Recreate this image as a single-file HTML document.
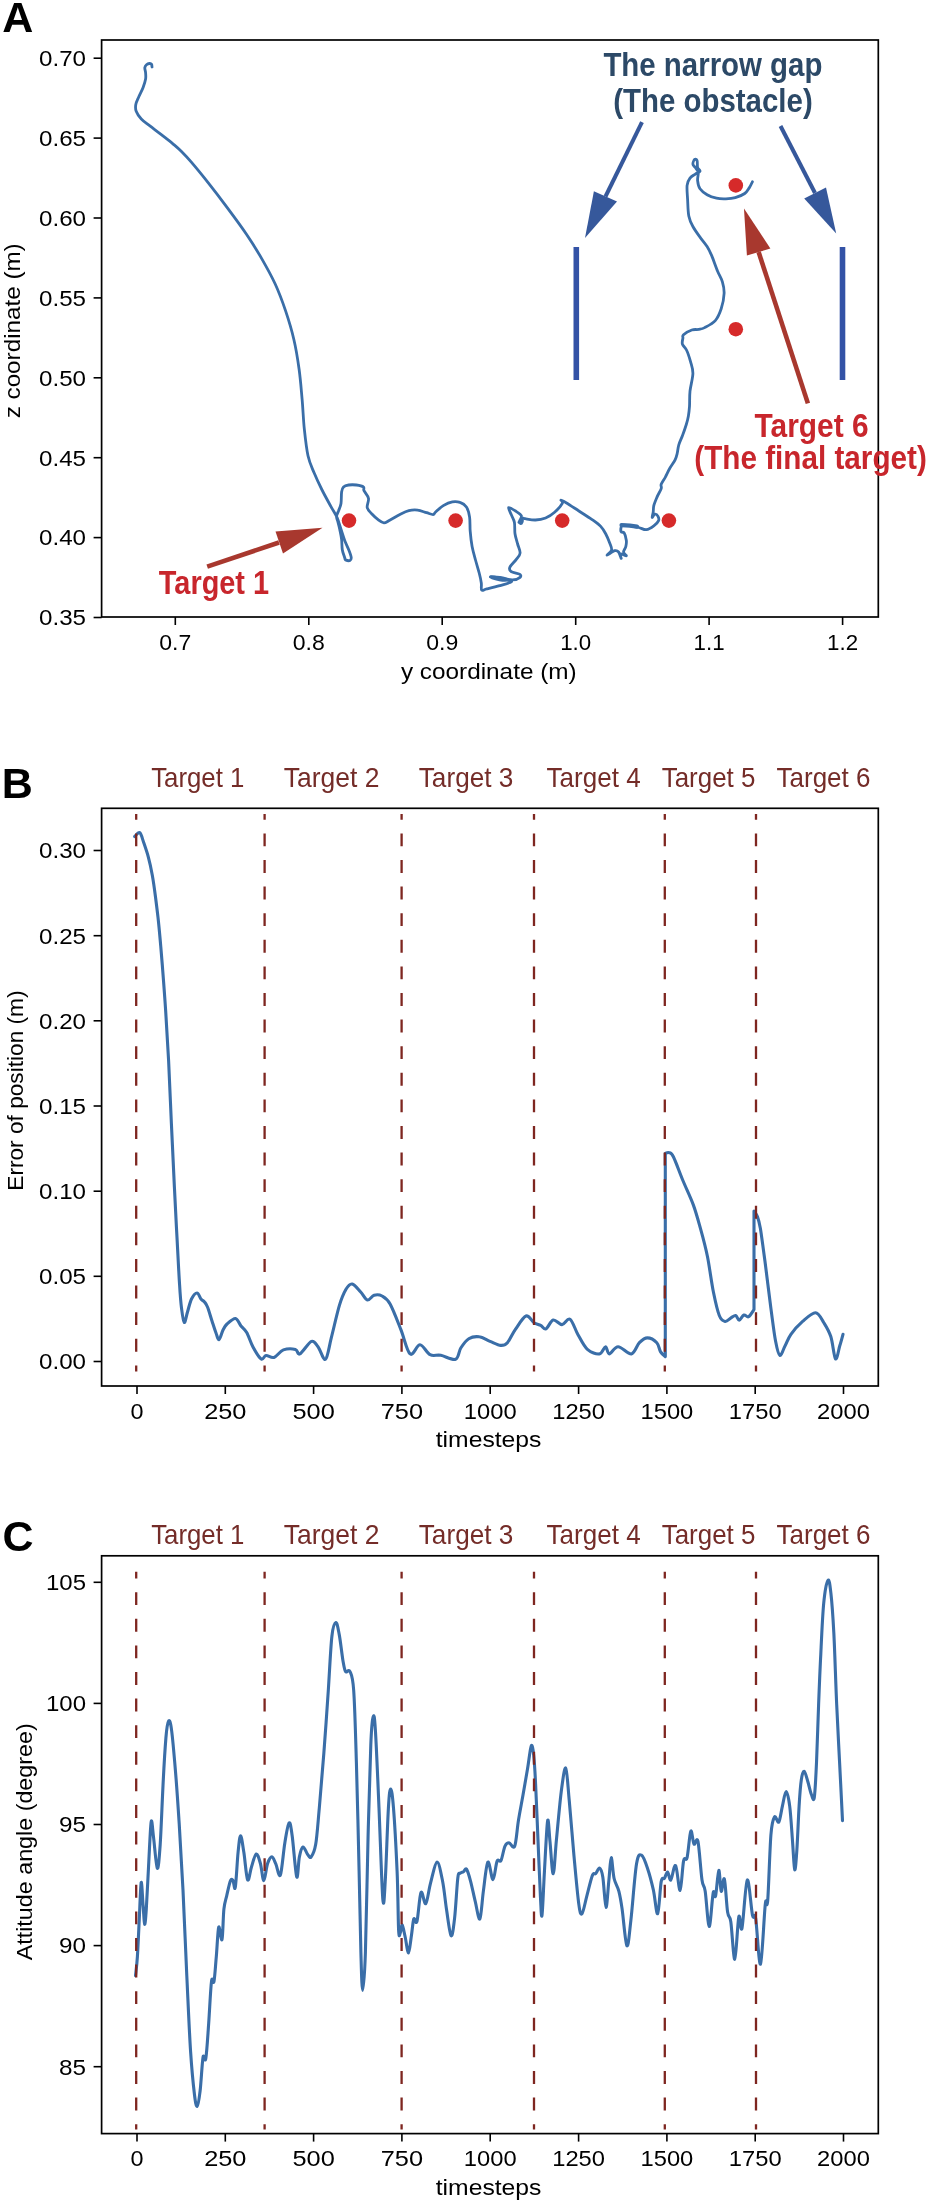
<!DOCTYPE html>
<html><head><meta charset="utf-8"><title>Figure</title>
<style>
html,body{margin:0;padding:0;background:#fff;overflow:hidden;}
svg{display:block;will-change:transform;}
text{font-family:"Liberation Sans", sans-serif;}
.t{font-size:22.5px;fill:#000;}
.L{font-size:43px;font-weight:bold;fill:#000;}
.an{font-size:33px;font-weight:bold;}
.tl{font-size:28px;fill:#742c28;}
</style></head>
<body>
<svg width="937" height="2210" viewBox="0 0 937 2210">
<rect width="937" height="2210" fill="#fff"/>
<text x="2.2" y="32.4" class="L">A</text>
<text x="1.8" y="798.3" class="L">B</text>
<text x="2.6" y="1551.2" class="L">C</text>
<line x1="576.3" y1="247" x2="576.3" y2="380" stroke="#3352a6" stroke-width="5.6"/>
<line x1="842.5" y1="247" x2="842.5" y2="380" stroke="#3352a6" stroke-width="5.6"/>
<path d="M152.0,67.0 C151.9,66.6 152.0,65.0 151.6,64.4 C151.2,63.8 150.3,63.4 149.5,63.5 C148.7,63.6 147.3,64.1 146.5,64.8 C145.7,65.5 145.0,66.4 144.8,67.8 C144.7,69.2 145.5,71.1 145.6,72.9 C145.7,74.8 146.0,76.5 145.6,78.9 C145.2,81.3 144.2,84.4 143.1,87.4 C142.0,90.4 140.0,94.0 138.8,96.8 C137.6,99.6 136.2,102.1 135.8,104.5 C135.4,106.9 135.3,108.9 136.2,111.3 C137.1,113.7 139.0,116.6 141.3,119.0 C143.6,121.4 146.6,123.3 149.9,125.9 C153.2,128.5 157.2,131.4 161.0,134.4 C164.8,137.4 169.5,141.0 172.9,143.8 C176.3,146.7 178.5,148.5 181.5,151.5 C184.5,154.5 186.5,156.5 190.9,161.7 C195.3,166.8 201.8,174.7 207.9,182.4 C214.0,190.1 220.9,199.1 227.4,207.8 C233.9,216.5 241.1,226.2 246.8,234.7 C252.5,243.2 257.0,250.4 261.7,258.6 C266.4,266.8 271.2,275.3 275.2,284.0 C279.2,292.7 282.5,301.7 285.6,310.9 C288.7,320.1 291.6,329.6 293.8,339.3 C296.1,349.0 297.7,359.2 299.1,369.2 C300.5,379.2 301.2,389.2 302.1,399.1 C303.0,409.1 303.3,419.4 304.3,428.9 C305.3,438.3 306.4,448.5 308.0,455.8 C309.6,463.1 311.8,467.2 314.1,472.8 C316.4,478.4 319.0,483.9 321.8,489.5 C324.6,495.1 328.1,501.4 330.7,506.1 C333.2,510.8 335.4,513.8 337.1,517.6 C338.8,521.5 339.7,525.4 341.0,529.2 C342.3,533.1 343.5,537.3 344.8,540.7 C346.1,544.1 347.6,546.9 348.7,549.7 C349.8,552.5 351.0,555.5 351.2,557.3 C351.4,559.1 350.9,560.1 350.0,560.5 C349.1,560.9 346.4,560.3 345.5,559.9 C344.6,559.5 345.3,559.7 344.8,558.0 C344.3,556.3 342.8,552.8 342.3,549.7 C341.8,546.6 342.0,542.8 341.6,539.4 C341.2,536.0 340.3,532.2 339.7,529.2 C339.1,526.2 338.3,523.6 337.8,521.5 C337.3,519.4 336.4,518.1 336.5,516.4 C336.6,514.7 337.6,513.4 338.4,511.2 C339.1,509.1 340.5,506.7 341.0,503.5 C341.5,500.3 341.2,494.8 341.6,492.0 C342.0,489.2 342.3,488.1 343.5,486.9 C344.7,485.7 346.6,485.3 348.7,485.0 C350.8,484.7 353.9,484.7 356.4,485.0 C358.8,485.3 362.1,485.9 363.4,486.9 C364.7,487.8 363.1,488.8 364.0,490.7 C364.9,492.6 368.0,495.6 368.5,498.4 C369.0,501.2 366.7,504.8 367.2,507.4 C367.7,510.0 369.9,511.8 371.7,513.8 C373.5,515.8 376.1,518.1 378.1,519.6 C380.1,521.1 382.0,522.7 383.9,522.8 C385.8,522.9 387.0,521.6 389.7,520.2 C392.4,518.8 396.7,516.0 399.9,514.4 C403.1,512.8 405.9,511.3 408.9,510.6 C411.9,509.9 414.8,509.8 417.7,510.1 C420.6,510.5 424.0,512.0 426.6,512.7 C429.2,513.5 431.6,514.7 433.1,514.6 C434.6,514.5 433.9,513.5 435.6,512.0 C437.3,510.5 440.5,507.3 443.3,505.6 C446.1,503.9 449.5,502.3 452.3,501.8 C455.1,501.3 457.6,501.5 460.0,502.4 C462.4,503.2 464.8,504.4 466.4,506.9 C468.0,509.3 469.0,513.0 469.6,517.1 C470.2,521.2 469.8,526.3 470.2,531.2 C470.6,536.1 471.2,541.8 472.1,546.6 C473.0,551.4 474.3,555.6 475.5,560.0 C476.7,564.4 478.2,569.2 479.2,573.0 C480.2,576.8 480.9,580.1 481.3,583.0 C481.7,585.9 480.8,589.1 481.7,590.1 C482.6,591.1 483.8,589.6 486.8,588.9 C489.8,588.2 495.6,586.9 499.7,585.7 C503.8,584.5 509.9,582.8 511.2,581.8 C512.5,580.8 510.7,580.8 507.3,579.9 C503.9,579.0 492.0,577.0 490.7,576.7 C489.4,576.4 496.1,577.5 499.7,578.0 C503.3,578.5 509.1,580.0 512.5,579.9 C515.9,579.8 518.9,578.3 520.1,577.3 C521.3,576.3 521.0,575.0 519.5,574.1 C518.0,573.2 512.8,572.8 511.2,571.6 C509.6,570.4 509.0,569.1 509.9,567.1 C510.8,565.1 514.6,561.8 516.3,559.4 C518.0,557.0 519.9,555.6 520.1,553.0 C520.3,550.4 518.5,547.2 517.6,544.0 C516.8,540.8 515.5,537.4 515.0,533.8 C514.5,530.2 515.0,525.5 514.4,522.3 C513.8,519.1 512.2,517.1 511.2,514.6 C510.2,512.1 508.0,508.1 508.6,507.5 C509.2,506.9 512.9,509.3 515.0,510.7 C517.1,512.1 520.8,514.0 521.4,515.9 C522.0,517.8 518.7,521.9 518.9,522.3 C519.1,522.7 521.7,519.0 522.7,518.4 C523.7,517.8 523.0,518.4 525.1,518.7 C527.2,519.0 532.0,520.1 535.4,520.0 C538.8,519.9 542.4,519.3 545.6,518.0 C548.8,516.7 551.8,514.8 554.6,512.3 C557.4,509.8 561.2,505.3 562.3,503.3 C563.4,501.3 560.4,500.2 561.0,500.1 C561.6,500.0 563.1,500.9 566.1,502.7 C569.1,504.5 574.6,508.2 578.9,511.0 C583.2,513.8 588.1,516.7 591.7,519.3 C595.3,521.9 598.4,523.9 600.7,526.4 C603.1,528.9 604.3,531.2 605.8,534.0 C607.3,536.8 608.7,540.3 609.7,543.0 C610.7,545.7 612.0,548.0 611.6,550.0 C611.2,552.0 606.6,555.1 607.1,555.2 C607.6,555.3 612.9,551.2 614.8,550.7 C616.7,550.2 617.5,550.7 618.6,552.0 C619.7,553.3 620.9,558.1 621.2,558.4 C621.5,558.7 619.6,554.3 620.5,553.9 C621.4,553.5 625.8,556.1 626.3,555.8 C626.8,555.5 623.6,553.5 623.5,552.0 C623.4,550.5 625.3,548.6 625.8,546.6 C626.3,544.6 626.6,542.5 626.3,540.2 C626.0,537.9 625.1,534.4 624.2,533.0 C623.3,531.6 621.4,532.9 621.0,531.6 C620.6,530.4 620.7,526.5 622.0,525.5 C623.3,524.5 626.1,525.2 628.9,525.5 C631.7,525.8 635.9,526.8 638.8,527.5 C641.7,528.2 643.8,530.0 646.3,529.7 C648.8,529.4 651.8,527.4 653.8,525.9 C655.8,524.4 657.9,522.2 658.6,520.6 C659.3,519.0 658.6,517.4 658.0,516.3 C657.4,515.2 655.8,514.0 654.8,514.2 C653.8,514.4 652.5,517.8 652.2,517.4 C651.9,517.0 652.9,514.1 653.2,512.1 C653.5,510.2 653.2,508.2 653.8,505.7 C654.4,503.2 655.8,500.0 657.0,497.1 C658.2,494.2 660.5,490.7 661.2,488.6 C661.9,486.5 660.5,486.3 661.2,484.3 C661.9,482.3 664.1,479.5 665.5,476.8 C666.9,474.1 668.2,471.1 669.8,468.3 C671.4,465.5 673.9,462.3 675.1,459.8 C676.3,457.3 676.6,455.9 677.2,453.4 C677.8,450.9 677.9,447.8 678.8,444.8 C679.7,441.8 681.4,438.6 682.6,435.2 C683.9,431.8 685.3,427.7 686.3,424.5 C687.3,421.3 687.9,419.0 688.4,416.0 C688.9,413.0 689.2,410.5 689.5,406.4 C689.8,402.3 689.4,396.7 690.0,391.2 C690.6,385.7 692.8,378.4 692.9,373.5 C693.0,368.6 691.7,365.7 690.6,361.8 C689.5,357.9 687.9,352.9 686.5,350.0 C685.1,347.1 683.0,346.1 682.4,344.1 C681.8,342.1 682.7,339.8 682.9,338.2 C683.1,336.6 682.0,336.1 683.5,334.7 C685.0,333.3 689.2,330.9 691.8,330.0 C694.3,329.1 696.6,329.8 698.8,329.4 C700.9,329.0 702.0,329.1 704.7,327.6 C707.5,326.1 712.5,323.7 715.3,320.6 C718.0,317.5 719.7,313.3 721.2,308.8 C722.7,304.3 723.9,298.0 724.1,293.5 C724.3,289.0 723.5,285.5 722.4,281.8 C721.3,278.1 719.4,275.5 717.6,271.2 C715.8,266.9 713.5,260.0 711.8,255.9 C710.0,251.8 709.1,249.6 707.1,246.5 C705.1,243.4 702.4,240.4 700.0,237.1 C697.6,233.8 694.8,230.0 692.9,226.5 C691.0,223.0 689.7,220.4 688.8,215.9 C687.9,211.4 687.9,204.5 687.6,199.4 C687.3,194.3 686.7,188.8 687.1,185.3 C687.5,181.8 688.6,180.1 690.0,178.2 C691.4,176.3 693.6,175.3 695.3,174.1 C697.0,172.9 699.6,172.3 700.0,171.2 C700.4,170.1 698.1,169.4 697.6,167.6 C697.1,165.8 697.6,162.0 697.1,160.6 C696.6,159.2 695.4,158.8 694.7,159.4 C694.0,160.0 692.8,162.7 692.9,164.1 C693.0,165.5 694.4,166.2 695.3,167.6 C696.2,169.0 697.8,170.2 698.2,172.4 C698.6,174.6 697.3,177.9 697.6,180.6 C697.9,183.3 698.4,186.5 700.0,188.8 C701.6,191.2 704.4,193.1 707.1,194.7 C709.9,196.3 713.4,197.5 716.5,198.2 C719.6,198.9 722.8,198.9 725.9,198.8 C729.0,198.7 732.2,198.5 735.3,197.6 C738.4,196.7 742.4,195.2 744.7,193.5 C747.1,191.8 748.1,189.5 749.4,187.6 C750.7,185.7 751.9,182.8 752.4,181.8" fill="none" stroke="#3a6ea8" stroke-width="2.8" stroke-linejoin="round" stroke-linecap="round"/>
<ellipse cx="499.6" cy="578.6" rx="10.8" ry="2.6" transform="rotate(9 499.6 578.6)" fill="#3a6ea8"/>
<ellipse cx="521.2" cy="521.6" rx="2.4" ry="3.4" transform="rotate(20 521.2 521.6)" fill="#3a6ea8"/>
<path d="M621.5,525.2 L630,525.6 L637,526.6" fill="none" stroke="#3a6ea8" stroke-width="4.2" stroke-linecap="round"/>
<circle cx="349.0" cy="520.6" r="7.3" fill="#d62a2a"/>
<circle cx="455.6" cy="520.6" r="7.3" fill="#d62a2a"/>
<circle cx="562.2" cy="520.6" r="7.3" fill="#d62a2a"/>
<circle cx="668.9" cy="520.6" r="7.3" fill="#d62a2a"/>
<circle cx="735.8" cy="329.2" r="7.3" fill="#d62a2a"/>
<circle cx="735.8" cy="185.4" r="7.3" fill="#d62a2a"/>
<rect x="101.6" y="40.0" width="776.7" height="577.0" fill="none" stroke="#000" stroke-width="1.7"/>
<line x1="93.6" y1="58.2" x2="101.6" y2="58.2" stroke="#000" stroke-width="1.6"/>
<text x="86" y="66.0" text-anchor="end" class="t" textLength="47" lengthAdjust="spacingAndGlyphs">0.70</text>
<line x1="93.6" y1="138.1" x2="101.6" y2="138.1" stroke="#000" stroke-width="1.6"/>
<text x="86" y="145.9" text-anchor="end" class="t" textLength="47" lengthAdjust="spacingAndGlyphs">0.65</text>
<line x1="93.6" y1="218.0" x2="101.6" y2="218.0" stroke="#000" stroke-width="1.6"/>
<text x="86" y="225.8" text-anchor="end" class="t" textLength="47" lengthAdjust="spacingAndGlyphs">0.60</text>
<line x1="93.6" y1="297.9" x2="101.6" y2="297.9" stroke="#000" stroke-width="1.6"/>
<text x="86" y="305.7" text-anchor="end" class="t" textLength="47" lengthAdjust="spacingAndGlyphs">0.55</text>
<line x1="93.6" y1="377.8" x2="101.6" y2="377.8" stroke="#000" stroke-width="1.6"/>
<text x="86" y="385.6" text-anchor="end" class="t" textLength="47" lengthAdjust="spacingAndGlyphs">0.50</text>
<line x1="93.6" y1="457.7" x2="101.6" y2="457.7" stroke="#000" stroke-width="1.6"/>
<text x="86" y="465.5" text-anchor="end" class="t" textLength="47" lengthAdjust="spacingAndGlyphs">0.45</text>
<line x1="93.6" y1="537.6" x2="101.6" y2="537.6" stroke="#000" stroke-width="1.6"/>
<text x="86" y="545.4" text-anchor="end" class="t" textLength="47" lengthAdjust="spacingAndGlyphs">0.40</text>
<line x1="93.6" y1="617.5" x2="101.6" y2="617.5" stroke="#000" stroke-width="1.6"/>
<text x="86" y="625.3" text-anchor="end" class="t" textLength="47" lengthAdjust="spacingAndGlyphs">0.35</text>
<line x1="175.3" y1="617.0" x2="175.3" y2="625.0" stroke="#000" stroke-width="1.6"/>
<text x="175.3" y="649.6" text-anchor="middle" class="t" textLength="32" lengthAdjust="spacingAndGlyphs">0.7</text>
<line x1="308.8" y1="617.0" x2="308.8" y2="625.0" stroke="#000" stroke-width="1.6"/>
<text x="308.8" y="649.6" text-anchor="middle" class="t" textLength="32" lengthAdjust="spacingAndGlyphs">0.8</text>
<line x1="442.2" y1="617.0" x2="442.2" y2="625.0" stroke="#000" stroke-width="1.6"/>
<text x="442.2" y="649.6" text-anchor="middle" class="t" textLength="32" lengthAdjust="spacingAndGlyphs">0.9</text>
<line x1="575.7" y1="617.0" x2="575.7" y2="625.0" stroke="#000" stroke-width="1.6"/>
<text x="575.7" y="649.6" text-anchor="middle" class="t" textLength="31" lengthAdjust="spacingAndGlyphs">1.0</text>
<line x1="709.1" y1="617.0" x2="709.1" y2="625.0" stroke="#000" stroke-width="1.6"/>
<text x="709.1" y="649.6" text-anchor="middle" class="t" textLength="31" lengthAdjust="spacingAndGlyphs">1.1</text>
<line x1="842.6" y1="617.0" x2="842.6" y2="625.0" stroke="#000" stroke-width="1.6"/>
<text x="842.6" y="649.6" text-anchor="middle" class="t" textLength="31" lengthAdjust="spacingAndGlyphs">1.2</text>
<text x="488.8" y="679.3" text-anchor="middle" class="t" textLength="175.8" lengthAdjust="spacingAndGlyphs">y coordinate (m)</text>
<text transform="translate(20.3,330.8) rotate(-90)" x="0" y="0" text-anchor="middle" class="t" textLength="175" lengthAdjust="spacingAndGlyphs">z coordinate (m)</text>
<text x="603.4" y="75.8" class="an" fill="#2c4967" textLength="219" lengthAdjust="spacingAndGlyphs">The narrow gap</text>
<text x="613.2" y="112.3" class="an" fill="#2c4967" textLength="199.5" lengthAdjust="spacingAndGlyphs">(The obstacle)</text>
<line x1="642" y1="122.2" x2="605.5" y2="196.5" stroke="#36589b" stroke-width="4"/>
<polygon points="593.9,191.3 617,201.6 585,238" fill="#36589b"/>
<line x1="780.5" y1="126" x2="815" y2="193" stroke="#36589b" stroke-width="4"/>
<polygon points="804.2,198.4 826,187.5 836.2,233.6" fill="#36589b"/>
<line x1="807.9" y1="403.4" x2="758.6" y2="252" stroke="#a8382e" stroke-width="4.6"/>
<polygon points="746.9,255.5 770.4,248.5 744,208.6" fill="#a8382e"/>
<line x1="207.2" y1="566.6" x2="279" y2="542.5" stroke="#a8382e" stroke-width="4.6"/>
<polygon points="275.5,531.6 283,553.4 322.5,527.7" fill="#a8382e"/>
<text x="158.8" y="593.9" class="an" fill="#c8262c" textLength="110.3" lengthAdjust="spacingAndGlyphs">Target 1</text>
<text x="754.6" y="436.5" class="an" fill="#c8262c" textLength="114" lengthAdjust="spacingAndGlyphs">Target 6</text>
<text x="694.3" y="468.6" class="an" fill="#c8262c" textLength="232.5" lengthAdjust="spacingAndGlyphs">(The final target)</text>
<text x="151.2" y="786.5" class="tl" textLength="93.2" lengthAdjust="spacingAndGlyphs">Target 1</text>
<text x="283.8" y="786.5" class="tl" textLength="95.6" lengthAdjust="spacingAndGlyphs">Target 2</text>
<text x="418.8" y="786.5" class="tl" textLength="94.5" lengthAdjust="spacingAndGlyphs">Target 3</text>
<text x="546.6" y="786.5" class="tl" textLength="94.0" lengthAdjust="spacingAndGlyphs">Target 4</text>
<text x="661.7" y="786.5" class="tl" textLength="93.7" lengthAdjust="spacingAndGlyphs">Target 5</text>
<text x="776.5" y="786.5" class="tl" textLength="94.0" lengthAdjust="spacingAndGlyphs">Target 6</text>
<line x1="137.0" y1="1386.0" x2="137.0" y2="1394.0" stroke="#000" stroke-width="1.6"/>
<text x="137.0" y="1418.6" text-anchor="middle" class="t" textLength="13" lengthAdjust="spacingAndGlyphs">0</text>
<line x1="225.3" y1="1386.0" x2="225.3" y2="1394.0" stroke="#000" stroke-width="1.6"/>
<text x="225.3" y="1418.6" text-anchor="middle" class="t" textLength="42.3" lengthAdjust="spacingAndGlyphs">250</text>
<line x1="313.6" y1="1386.0" x2="313.6" y2="1394.0" stroke="#000" stroke-width="1.6"/>
<text x="313.6" y="1418.6" text-anchor="middle" class="t" textLength="42.3" lengthAdjust="spacingAndGlyphs">500</text>
<line x1="401.9" y1="1386.0" x2="401.9" y2="1394.0" stroke="#000" stroke-width="1.6"/>
<text x="401.9" y="1418.6" text-anchor="middle" class="t" textLength="42.3" lengthAdjust="spacingAndGlyphs">750</text>
<line x1="490.2" y1="1386.0" x2="490.2" y2="1394.0" stroke="#000" stroke-width="1.6"/>
<text x="490.2" y="1418.6" text-anchor="middle" class="t" textLength="52.8" lengthAdjust="spacingAndGlyphs">1000</text>
<line x1="578.6" y1="1386.0" x2="578.6" y2="1394.0" stroke="#000" stroke-width="1.6"/>
<text x="578.6" y="1418.6" text-anchor="middle" class="t" textLength="52.8" lengthAdjust="spacingAndGlyphs">1250</text>
<line x1="666.9" y1="1386.0" x2="666.9" y2="1394.0" stroke="#000" stroke-width="1.6"/>
<text x="666.9" y="1418.6" text-anchor="middle" class="t" textLength="52.8" lengthAdjust="spacingAndGlyphs">1500</text>
<line x1="755.2" y1="1386.0" x2="755.2" y2="1394.0" stroke="#000" stroke-width="1.6"/>
<text x="755.2" y="1418.6" text-anchor="middle" class="t" textLength="52.8" lengthAdjust="spacingAndGlyphs">1750</text>
<line x1="843.5" y1="1386.0" x2="843.5" y2="1394.0" stroke="#000" stroke-width="1.6"/>
<text x="843.5" y="1418.6" text-anchor="middle" class="t" textLength="52.8" lengthAdjust="spacingAndGlyphs">2000</text>
<text x="488.6" y="1447.3" text-anchor="middle" class="t" textLength="105.8" lengthAdjust="spacingAndGlyphs">timesteps</text>
<path d="M134.7,836.5 C135.5,835.9 138.2,831.8 139.7,832.7 C141.2,833.6 142.1,837.9 143.5,842.0 C144.9,846.1 146.9,851.8 148.4,857.3 C149.9,862.8 151.1,868.6 152.3,875.2 C153.5,881.8 154.6,890.0 155.5,897.0 C156.4,904.0 157.2,910.2 158.0,917.4 C158.8,924.6 159.5,932.1 160.2,940.0 C160.9,947.9 161.4,953.4 162.3,965.0 C163.2,976.6 164.6,994.0 165.6,1009.9 C166.6,1025.8 167.6,1041.5 168.6,1060.5 C169.6,1079.5 170.4,1102.7 171.4,1123.8 C172.4,1144.9 173.5,1168.1 174.4,1187.1 C175.3,1206.1 176.1,1221.4 177.0,1237.7 C177.9,1254.0 178.8,1273.3 179.6,1285.0 C180.3,1296.7 180.7,1301.8 181.5,1308.0 C182.3,1314.2 183.2,1321.8 184.2,1322.5 C185.2,1323.2 186.3,1315.9 187.5,1312.0 C188.7,1308.1 189.9,1302.2 191.5,1299.0 C193.1,1295.8 195.4,1293.0 197.0,1293.0 C198.6,1293.0 199.8,1297.5 201.0,1299.0 C202.2,1300.5 203.4,1300.7 204.5,1302.0 C205.6,1303.3 206.2,1303.8 207.5,1307.0 C208.8,1310.2 210.6,1316.7 212.0,1321.0 C213.4,1325.3 214.8,1329.9 216.0,1333.0 C217.2,1336.1 217.9,1340.0 219.1,1339.5 C220.3,1339.0 221.7,1332.6 223.0,1330.0 C224.3,1327.4 224.9,1325.9 227.0,1324.0 C229.1,1322.1 233.2,1318.2 235.5,1318.5 C237.8,1318.8 239.1,1323.7 241.0,1326.0 C242.9,1328.3 244.7,1329.0 246.7,1332.5 C248.7,1336.0 250.6,1342.6 253.0,1347.0 C255.4,1351.4 259.0,1357.6 261.2,1359.0 C263.4,1360.4 263.9,1355.8 266.0,1355.5 C268.1,1355.2 271.1,1358.3 274.0,1357.4 C276.9,1356.5 279.8,1351.2 283.4,1349.9 C287.0,1348.6 292.6,1348.7 295.4,1349.4 C298.1,1350.1 297.2,1355.2 299.9,1353.9 C302.6,1352.6 308.4,1342.6 311.4,1341.4 C314.4,1340.2 315.6,1343.7 318.0,1346.7 C320.4,1349.7 323.3,1360.8 325.5,1359.3 C327.7,1357.8 329.1,1346.4 331.4,1337.4 C333.7,1328.4 337.0,1313.4 339.4,1305.4 C341.8,1297.4 343.9,1292.9 346.0,1289.3 C348.1,1285.7 349.8,1283.5 352.2,1284.0 C354.6,1284.5 358.2,1289.3 360.7,1292.0 C363.2,1294.7 365.2,1299.5 367.4,1300.0 C369.6,1300.5 371.7,1295.9 374.1,1295.2 C376.6,1294.5 379.4,1294.5 382.1,1296.0 C384.8,1297.5 387.0,1298.4 390.1,1304.0 C393.2,1309.6 397.5,1321.1 400.8,1329.4 C404.1,1337.7 406.9,1351.3 410.1,1353.9 C413.3,1356.5 416.7,1344.7 420.0,1344.8 C423.3,1344.9 426.6,1353.0 430.1,1354.7 C433.6,1356.5 436.6,1354.5 440.8,1355.3 C445.0,1356.1 452.2,1360.5 455.5,1359.3 C458.8,1358.1 458.6,1351.4 460.8,1348.0 C463.0,1344.6 465.7,1340.6 468.8,1338.7 C471.9,1336.8 475.8,1336.3 479.3,1336.8 C482.8,1337.2 486.4,1340.0 490.0,1341.4 C493.6,1342.8 497.8,1345.2 500.7,1345.4 C503.6,1345.6 504.9,1345.4 507.4,1342.7 C509.8,1340.0 512.3,1333.9 515.4,1329.4 C518.5,1325.0 522.9,1317.1 526.0,1316.0 C529.1,1314.9 531.5,1321.1 534.0,1322.7 C536.5,1324.3 538.7,1324.4 540.7,1325.4 C542.7,1326.4 543.9,1329.7 546.0,1328.8 C548.1,1327.9 550.5,1320.7 553.2,1320.0 C555.9,1319.3 559.2,1324.7 562.0,1324.6 C564.8,1324.5 567.3,1317.5 570.0,1319.2 C572.7,1320.9 575.1,1329.7 578.0,1334.7 C580.9,1339.7 583.8,1346.2 587.4,1349.4 C591.0,1352.6 596.4,1354.4 599.4,1353.9 C602.4,1353.5 603.9,1346.7 605.5,1346.7 C607.1,1346.7 607.2,1353.9 609.3,1353.9 C611.4,1353.9 614.4,1346.7 618.1,1346.7 C621.8,1346.7 627.9,1354.6 631.4,1353.9 C634.9,1353.2 636.7,1345.4 639.4,1342.7 C642.1,1340.0 644.5,1337.9 647.4,1337.9 C650.3,1337.9 654.6,1340.4 656.8,1342.7 C659.0,1345.0 659.2,1349.6 660.6,1351.9 C662.0,1354.2 664.5,1355.8 665.3,1356.6 L665.3,1153.5 C665.9,1153.3 667.6,1152.0 669.0,1152.6 C670.4,1153.2 671.2,1152.3 673.5,1157.0 C675.8,1161.7 679.6,1172.5 682.9,1180.5 C686.2,1188.5 690.5,1197.1 693.4,1205.1 C696.3,1213.1 698.1,1220.0 700.5,1228.6 C702.9,1237.2 705.4,1246.2 707.5,1256.8 C709.6,1267.4 711.4,1282.2 713.4,1292.0 C715.4,1301.8 717.3,1310.6 719.3,1315.5 C721.2,1320.4 723.1,1321.0 725.1,1321.4 C727.1,1321.8 729.2,1318.8 731.0,1317.8 C732.8,1316.8 734.3,1315.1 735.7,1315.5 C737.1,1315.9 737.8,1320.3 739.2,1320.2 C740.6,1320.1 742.3,1315.6 743.9,1315.0 C745.5,1314.4 746.9,1317.6 748.6,1316.7 C750.3,1315.8 753.1,1310.8 754.0,1309.6 L754,1211 C754.6,1212.0 756.4,1214.0 757.5,1216.9 C758.6,1219.8 759.1,1221.2 760.4,1228.6 C761.6,1236.0 763.2,1248.2 765.0,1261.5 C766.8,1274.8 769.1,1295.1 770.9,1308.4 C772.7,1321.7 774.1,1333.5 775.6,1341.3 C777.1,1349.1 778.2,1354.6 779.8,1355.4 C781.4,1356.2 783.1,1349.5 785.0,1346.0 C786.9,1342.5 788.0,1338.4 790.9,1334.3 C793.8,1330.2 798.5,1325.0 802.6,1321.4 C806.7,1317.8 812.0,1312.5 815.5,1312.7 C819.0,1312.9 821.2,1318.5 823.7,1322.5 C826.2,1326.5 828.8,1330.5 830.8,1336.6 C832.8,1342.7 834.0,1357.3 835.5,1358.9 C837.0,1360.5 838.5,1350.1 839.7,1346.0 C841.0,1341.9 842.5,1336.2 843.0,1334.3" fill="none" stroke="#3a6ea8" stroke-width="3.1" stroke-linejoin="round" stroke-linecap="round"/>
<line x1="136.2" y1="813.9" x2="136.2" y2="1371.6" stroke="#7e2620" stroke-width="2.3" stroke-dasharray="12.9 13.7" stroke-dashoffset="7.1"/>
<line x1="264.6" y1="813.9" x2="264.6" y2="1371.6" stroke="#7e2620" stroke-width="2.3" stroke-dasharray="12.9 13.7" stroke-dashoffset="7.1"/>
<line x1="401.6" y1="813.9" x2="401.6" y2="1371.6" stroke="#7e2620" stroke-width="2.3" stroke-dasharray="12.9 13.7" stroke-dashoffset="7.1"/>
<line x1="534.0" y1="813.9" x2="534.0" y2="1371.6" stroke="#7e2620" stroke-width="2.3" stroke-dasharray="12.9 13.7" stroke-dashoffset="7.1"/>
<line x1="664.8" y1="813.9" x2="664.8" y2="1371.6" stroke="#7e2620" stroke-width="2.3" stroke-dasharray="12.9 13.7" stroke-dashoffset="7.1"/>
<line x1="756.0" y1="813.9" x2="756.0" y2="1371.6" stroke="#7e2620" stroke-width="2.3" stroke-dasharray="12.9 13.7" stroke-dashoffset="7.1"/>
<rect x="101.6" y="808.3" width="776.7" height="577.7" fill="none" stroke="#000" stroke-width="1.7"/>
<line x1="93.6" y1="850.5" x2="101.6" y2="850.5" stroke="#000" stroke-width="1.6"/>
<text x="86" y="858.3" text-anchor="end" class="t" textLength="47" lengthAdjust="spacingAndGlyphs">0.30</text>
<line x1="93.6" y1="935.7" x2="101.6" y2="935.7" stroke="#000" stroke-width="1.6"/>
<text x="86" y="943.5" text-anchor="end" class="t" textLength="47" lengthAdjust="spacingAndGlyphs">0.25</text>
<line x1="93.6" y1="1020.8" x2="101.6" y2="1020.8" stroke="#000" stroke-width="1.6"/>
<text x="86" y="1028.6" text-anchor="end" class="t" textLength="47" lengthAdjust="spacingAndGlyphs">0.20</text>
<line x1="93.6" y1="1106.0" x2="101.6" y2="1106.0" stroke="#000" stroke-width="1.6"/>
<text x="86" y="1113.8" text-anchor="end" class="t" textLength="47" lengthAdjust="spacingAndGlyphs">0.15</text>
<line x1="93.6" y1="1191.2" x2="101.6" y2="1191.2" stroke="#000" stroke-width="1.6"/>
<text x="86" y="1199.0" text-anchor="end" class="t" textLength="47" lengthAdjust="spacingAndGlyphs">0.10</text>
<line x1="93.6" y1="1276.3" x2="101.6" y2="1276.3" stroke="#000" stroke-width="1.6"/>
<text x="86" y="1284.1" text-anchor="end" class="t" textLength="47" lengthAdjust="spacingAndGlyphs">0.05</text>
<line x1="93.6" y1="1361.5" x2="101.6" y2="1361.5" stroke="#000" stroke-width="1.6"/>
<text x="86" y="1369.3" text-anchor="end" class="t" textLength="47" lengthAdjust="spacingAndGlyphs">0.00</text>
<text transform="translate(22.6,1090.6) rotate(-90)" x="0" y="0" text-anchor="middle" class="t" textLength="200.2" lengthAdjust="spacingAndGlyphs">Error of position (m)</text>
<text x="151.2" y="1544.3" class="tl" textLength="93.2" lengthAdjust="spacingAndGlyphs">Target 1</text>
<text x="283.8" y="1544.3" class="tl" textLength="95.6" lengthAdjust="spacingAndGlyphs">Target 2</text>
<text x="418.8" y="1544.3" class="tl" textLength="94.5" lengthAdjust="spacingAndGlyphs">Target 3</text>
<text x="546.6" y="1544.3" class="tl" textLength="94.0" lengthAdjust="spacingAndGlyphs">Target 4</text>
<text x="661.7" y="1544.3" class="tl" textLength="93.7" lengthAdjust="spacingAndGlyphs">Target 5</text>
<text x="776.5" y="1544.3" class="tl" textLength="94.0" lengthAdjust="spacingAndGlyphs">Target 6</text>
<line x1="137.0" y1="2133.6" x2="137.0" y2="2141.6" stroke="#000" stroke-width="1.6"/>
<text x="137.0" y="2166.2" text-anchor="middle" class="t" textLength="13" lengthAdjust="spacingAndGlyphs">0</text>
<line x1="225.3" y1="2133.6" x2="225.3" y2="2141.6" stroke="#000" stroke-width="1.6"/>
<text x="225.3" y="2166.2" text-anchor="middle" class="t" textLength="42.3" lengthAdjust="spacingAndGlyphs">250</text>
<line x1="313.6" y1="2133.6" x2="313.6" y2="2141.6" stroke="#000" stroke-width="1.6"/>
<text x="313.6" y="2166.2" text-anchor="middle" class="t" textLength="42.3" lengthAdjust="spacingAndGlyphs">500</text>
<line x1="401.9" y1="2133.6" x2="401.9" y2="2141.6" stroke="#000" stroke-width="1.6"/>
<text x="401.9" y="2166.2" text-anchor="middle" class="t" textLength="42.3" lengthAdjust="spacingAndGlyphs">750</text>
<line x1="490.2" y1="2133.6" x2="490.2" y2="2141.6" stroke="#000" stroke-width="1.6"/>
<text x="490.2" y="2166.2" text-anchor="middle" class="t" textLength="52.8" lengthAdjust="spacingAndGlyphs">1000</text>
<line x1="578.6" y1="2133.6" x2="578.6" y2="2141.6" stroke="#000" stroke-width="1.6"/>
<text x="578.6" y="2166.2" text-anchor="middle" class="t" textLength="52.8" lengthAdjust="spacingAndGlyphs">1250</text>
<line x1="666.9" y1="2133.6" x2="666.9" y2="2141.6" stroke="#000" stroke-width="1.6"/>
<text x="666.9" y="2166.2" text-anchor="middle" class="t" textLength="52.8" lengthAdjust="spacingAndGlyphs">1500</text>
<line x1="755.2" y1="2133.6" x2="755.2" y2="2141.6" stroke="#000" stroke-width="1.6"/>
<text x="755.2" y="2166.2" text-anchor="middle" class="t" textLength="52.8" lengthAdjust="spacingAndGlyphs">1750</text>
<line x1="843.5" y1="2133.6" x2="843.5" y2="2141.6" stroke="#000" stroke-width="1.6"/>
<text x="843.5" y="2166.2" text-anchor="middle" class="t" textLength="52.8" lengthAdjust="spacingAndGlyphs">2000</text>
<text x="488.6" y="2194.9" text-anchor="middle" class="t" textLength="105.8" lengthAdjust="spacingAndGlyphs">timesteps</text>
<path d="M135.5,1975.7 C135.8,1972.5 136.8,1966.2 137.4,1956.7 C138.0,1947.2 138.7,1931.0 139.3,1918.6 C139.9,1906.2 140.6,1884.7 141.2,1882.5 C141.8,1880.3 142.5,1898.3 143.1,1905.3 C143.7,1912.3 144.1,1923.7 144.6,1924.3 C145.1,1924.9 145.6,1919.5 146.3,1909.1 C147.0,1898.6 148.0,1876.2 148.8,1861.6 C149.6,1847.0 150.4,1825.8 151.2,1821.7 C152.0,1817.6 152.5,1829.1 153.5,1836.9 C154.5,1844.7 156.2,1867.0 157.3,1868.3 C158.4,1869.6 159.2,1858.3 160.2,1844.5 C161.1,1830.7 162.1,1803.3 163.0,1785.6 C163.9,1767.8 165.0,1748.8 165.9,1738.0 C166.8,1727.2 167.8,1722.2 168.7,1720.9 C169.6,1719.6 170.5,1722.2 171.6,1730.4 C172.7,1738.6 174.1,1754.8 175.4,1770.3 C176.7,1785.8 177.9,1803.6 179.2,1823.6 C180.5,1843.6 181.7,1864.8 183.0,1890.1 C184.3,1915.4 185.5,1948.8 186.8,1975.7 C188.1,2002.6 189.3,2032.0 190.6,2051.7 C191.9,2071.4 193.3,2084.9 194.4,2094.0 C195.5,2103.1 196.2,2106.8 197.2,2106.3 C198.1,2105.8 199.1,2099.2 200.1,2091.0 C201.1,2082.8 202.1,2062.8 203.0,2057.4 C203.9,2052.0 204.9,2064.1 205.8,2058.4 C206.8,2052.7 207.8,2036.0 208.7,2023.2 C209.6,2010.4 210.6,1988.4 211.5,1981.4 C212.4,1974.4 213.2,1985.5 214.0,1981.4 C214.8,1977.3 215.5,1965.7 216.3,1956.7 C217.1,1947.7 217.8,1930.1 218.7,1927.2 C219.6,1924.3 221.1,1942.5 222.0,1939.5 C222.9,1936.5 223.1,1916.4 223.9,1909.1 C224.7,1901.8 225.6,1900.5 226.7,1895.8 C227.8,1891.0 229.4,1883.1 230.5,1880.6 C231.6,1878.1 232.2,1879.5 233.0,1880.6 C233.8,1881.7 234.5,1892.0 235.3,1887.3 C236.2,1882.5 237.2,1860.7 238.1,1852.1 C239.0,1843.5 239.6,1835.9 240.6,1835.9 C241.6,1835.9 242.6,1844.8 243.8,1852.1 C245.0,1859.4 246.3,1877.2 247.6,1879.7 C248.9,1882.2 250.0,1871.6 251.4,1867.3 C252.8,1863.0 254.7,1854.6 256.2,1854.0 C257.7,1853.4 259.1,1859.1 260.4,1863.5 C261.7,1867.9 262.6,1880.6 263.8,1880.6 C265.0,1880.6 266.2,1867.5 267.6,1863.5 C269.0,1859.5 270.5,1856.8 271.9,1856.9 C273.3,1857.0 274.5,1861.2 275.9,1864.2 C277.3,1867.2 278.9,1878.6 280.4,1875.0 C281.9,1871.4 283.4,1851.1 284.9,1842.4 C286.3,1833.7 287.9,1824.1 289.1,1822.9 C290.3,1821.7 290.8,1826.2 292.1,1835.2 C293.4,1844.2 295.5,1873.2 296.7,1876.8 C297.9,1880.4 298.3,1861.9 299.4,1856.9 C300.4,1851.9 301.6,1847.5 303.0,1847.0 C304.4,1846.5 306.1,1852.5 307.5,1854.2 C308.9,1855.9 309.7,1858.6 311.1,1856.9 C312.5,1855.2 314.3,1852.4 315.7,1844.3 C317.1,1836.2 317.9,1823.2 319.3,1808.1 C320.7,1793.0 322.3,1773.4 323.8,1753.8 C325.3,1734.2 327.0,1710.1 328.3,1690.5 C329.6,1670.9 330.6,1647.5 331.9,1636.2 C333.2,1624.9 334.7,1622.9 335.9,1622.6 C337.1,1622.3 338.0,1628.2 339.2,1634.4 C340.4,1640.6 341.8,1653.5 342.8,1659.7 C343.9,1665.9 344.3,1669.5 345.5,1671.5 C346.7,1673.5 348.6,1668.3 350.0,1671.5 C351.4,1674.7 352.6,1675.3 353.7,1690.5 C354.8,1705.7 355.5,1732.6 356.4,1762.8 C357.3,1793.0 358.4,1839.7 359.1,1871.4 C359.9,1903.1 360.3,1933.0 360.9,1952.8 C361.5,1972.6 361.9,1990.5 362.7,1990.5 C363.4,1990.5 364.5,1978.7 365.4,1952.8 C366.3,1926.9 367.2,1869.9 368.1,1835.2 C369.0,1800.5 370.0,1764.5 370.8,1744.7 C371.6,1725.0 372.4,1719.1 373.2,1716.7 C374.0,1714.3 374.4,1715.1 375.4,1730.3 C376.4,1745.5 377.8,1780.0 379.0,1808.1 C380.2,1836.2 381.8,1887.0 382.8,1899.0 C383.9,1911.0 384.4,1895.2 385.3,1880.0 C386.2,1864.8 387.5,1823.2 388.4,1808.1 C389.3,1792.9 389.8,1789.1 390.7,1789.1 C391.6,1789.1 392.4,1794.4 393.5,1808.1 C394.6,1821.8 396.2,1851.1 397.1,1871.4 C398.0,1891.7 398.1,1919.7 398.6,1930.0 C399.1,1940.3 399.7,1933.8 400.3,1933.0 C400.9,1932.2 401.4,1924.3 402.2,1925.0 C403.0,1925.7 404.1,1932.3 405.2,1937.0 C406.2,1941.7 407.5,1953.2 408.5,1953.0 C409.5,1952.8 410.5,1941.4 411.4,1935.7 C412.3,1930.0 412.9,1921.3 413.8,1918.9 C414.7,1916.5 415.8,1925.7 417.0,1921.3 C418.2,1916.9 419.5,1895.4 421.0,1892.5 C422.5,1889.6 424.2,1905.3 425.8,1903.7 C427.4,1902.1 428.7,1889.8 430.6,1882.9 C432.5,1876.0 435.0,1862.4 437.0,1862.1 C439.0,1861.8 441.0,1873.3 442.6,1881.3 C444.2,1889.3 445.2,1901.0 446.6,1910.1 C448.0,1919.2 449.8,1934.4 451.1,1935.7 C452.4,1937.0 453.5,1927.7 454.6,1918.1 C455.7,1908.5 456.9,1885.6 457.8,1878.1 C458.7,1870.6 459.3,1874.4 460.2,1873.3 C461.1,1872.2 462.3,1872.4 463.4,1871.7 C464.5,1871.0 465.4,1867.7 466.6,1869.3 C467.8,1870.9 469.1,1875.8 470.6,1881.3 C472.1,1886.8 473.8,1895.8 475.4,1902.1 C476.9,1908.4 478.6,1920.8 479.9,1918.9 C481.2,1917.0 482.1,1900.4 483.4,1890.9 C484.7,1881.4 486.3,1864.0 487.9,1862.1 C489.5,1860.2 491.5,1879.8 493.0,1879.7 C494.5,1879.6 495.7,1864.5 497.0,1861.3 C498.3,1858.1 499.7,1863.0 501.0,1860.5 C502.3,1858.0 503.6,1849.0 505.0,1846.1 C506.4,1843.1 507.5,1842.8 509.1,1842.8 C510.7,1842.8 513.1,1849.9 514.7,1846.1 C516.3,1842.3 517.1,1828.5 518.5,1820.0 C519.9,1811.5 521.5,1803.5 523.0,1795.0 C524.5,1786.5 526.1,1777.2 527.5,1769.0 C528.9,1760.8 530.2,1748.3 531.2,1746.0 C532.2,1743.7 533.0,1748.9 533.7,1755.2 C534.4,1761.5 534.9,1769.8 535.6,1784.0 C536.3,1798.2 537.2,1821.4 538.0,1840.1 C538.8,1858.8 539.7,1883.6 540.4,1896.1 C541.1,1908.6 541.3,1919.3 542.0,1915.3 C542.7,1911.3 543.5,1887.8 544.4,1872.1 C545.3,1856.4 546.7,1826.0 547.6,1820.9 C548.5,1815.8 549.1,1832.9 550.0,1841.7 C550.9,1850.5 552.1,1874.0 553.2,1873.7 C554.3,1873.4 555.1,1853.7 556.4,1840.1 C557.7,1826.5 559.7,1804.0 561.2,1792.0 C562.8,1780.0 564.4,1766.7 565.7,1768.0 C567.0,1769.3 567.8,1785.3 569.2,1800.0 C570.6,1814.7 572.4,1838.8 574.0,1856.1 C575.6,1873.4 577.5,1894.5 578.8,1904.1 C580.1,1913.7 580.7,1915.0 582.0,1913.7 C583.3,1912.4 585.1,1902.5 586.8,1896.1 C588.5,1889.7 590.9,1879.0 592.4,1875.3 C593.9,1871.6 594.4,1874.9 595.6,1873.7 C596.8,1872.5 598.4,1867.6 599.6,1868.1 C600.8,1868.6 601.7,1870.4 602.8,1876.9 C603.9,1883.4 605.0,1906.8 606.0,1907.3 C607.0,1907.8 608.0,1888.4 608.9,1880.1 C609.8,1871.8 610.3,1858.0 611.2,1857.7 C612.1,1857.4 612.8,1872.9 614.1,1878.5 C615.4,1884.1 617.6,1886.2 618.9,1891.3 C620.2,1896.4 620.8,1899.8 622.1,1908.9 C623.4,1918.0 625.4,1943.8 626.9,1945.7 C628.4,1947.6 629.3,1933.7 630.9,1920.1 C632.5,1906.5 634.7,1874.9 636.5,1864.1 C638.3,1853.3 639.7,1854.5 641.6,1855.3 C643.5,1856.1 645.8,1863.2 647.7,1868.9 C649.7,1874.6 651.6,1882.2 653.3,1889.7 C655.0,1897.2 656.4,1915.1 657.7,1913.7 C659.0,1912.3 660.1,1887.5 661.2,1881.6 C662.3,1875.7 663.3,1880.0 664.4,1878.4 C665.5,1876.8 666.5,1871.7 667.6,1872.0 C668.7,1872.3 669.5,1881.1 670.8,1880.0 C672.1,1878.9 674.0,1863.9 675.6,1865.6 C677.2,1867.3 678.8,1891.2 680.1,1890.4 C681.4,1889.6 682.4,1866.3 683.6,1860.8 C684.8,1855.3 685.9,1862.5 687.1,1857.6 C688.3,1852.7 689.6,1833.5 690.8,1831.2 C691.9,1828.9 692.8,1842.3 694.0,1844.0 C695.2,1845.7 696.7,1835.6 698.0,1841.6 C699.3,1847.6 700.8,1871.7 702.0,1880.0 C703.2,1888.3 704.0,1883.5 705.2,1891.2 C706.4,1899.0 707.9,1926.2 709.2,1926.5 C710.5,1926.8 712.1,1897.9 713.2,1892.8 C714.3,1887.7 714.7,1899.7 715.6,1896.0 C716.5,1892.3 717.9,1871.2 718.8,1870.4 C719.7,1869.6 720.3,1889.7 721.2,1891.2 C722.1,1892.7 723.3,1875.7 724.4,1879.2 C725.5,1882.7 726.5,1905.0 727.6,1912.1 C728.7,1919.2 729.6,1913.8 730.8,1921.7 C732.0,1929.6 733.5,1960.1 734.8,1959.3 C736.1,1958.5 737.6,1922.1 738.8,1916.9 C740.0,1911.7 740.6,1934.2 742.0,1928.1 C743.4,1921.9 745.5,1882.1 747.3,1880.0 C749.0,1877.9 751.1,1908.9 752.5,1915.3 C753.9,1921.7 754.4,1910.4 755.7,1918.5 C757.0,1926.6 758.9,1966.5 760.5,1964.1 C762.1,1961.7 764.1,1914.6 765.3,1904.1 C766.5,1893.6 766.8,1912.4 767.7,1900.9 C768.6,1889.4 769.8,1849.0 770.9,1835.0 C772.0,1821.0 773.2,1819.2 774.5,1817.0 C775.8,1814.8 777.5,1823.8 778.8,1822.0 C780.1,1820.2 781.2,1811.2 782.4,1806.1 C783.6,1801.0 784.9,1791.6 786.1,1791.6 C787.3,1791.6 788.6,1797.6 789.7,1806.1 C790.8,1814.5 791.8,1831.7 792.6,1842.3 C793.4,1852.9 794.0,1868.6 794.7,1869.8 C795.4,1871.0 796.2,1860.1 796.9,1849.5 C797.6,1838.9 798.4,1817.7 799.1,1806.1 C799.8,1794.5 800.4,1785.8 801.3,1780.0 C802.1,1774.2 803.1,1771.0 804.2,1771.3 C805.3,1771.5 806.6,1777.6 807.8,1781.5 C809.0,1785.4 810.3,1791.8 811.4,1794.5 C812.5,1797.2 813.4,1802.7 814.3,1797.4 C815.1,1792.1 815.8,1778.1 816.5,1762.7 C817.2,1747.3 817.9,1722.9 818.6,1704.8 C819.3,1686.7 819.9,1671.0 820.8,1654.1 C821.6,1637.2 822.5,1615.7 823.7,1603.4 C824.9,1591.1 826.8,1582.0 828.0,1580.3 C829.2,1578.6 829.9,1584.6 830.9,1593.3 C831.9,1602.0 832.8,1613.8 833.8,1632.4 C834.8,1651.0 835.7,1683.1 836.7,1704.8 C837.7,1726.5 838.6,1743.4 839.6,1762.7 C840.6,1782.0 842.0,1810.9 842.5,1820.6" fill="none" stroke="#3a6ea8" stroke-width="3.1" stroke-linejoin="round" stroke-linecap="round"/>
<line x1="136.2" y1="1571.7" x2="136.2" y2="2129.6" stroke="#7e2620" stroke-width="2.3" stroke-dasharray="12.9 13.7" stroke-dashoffset="6.1"/>
<line x1="264.6" y1="1571.7" x2="264.6" y2="2129.6" stroke="#7e2620" stroke-width="2.3" stroke-dasharray="12.9 13.7" stroke-dashoffset="6.1"/>
<line x1="401.6" y1="1571.7" x2="401.6" y2="2129.6" stroke="#7e2620" stroke-width="2.3" stroke-dasharray="12.9 13.7" stroke-dashoffset="6.1"/>
<line x1="534.0" y1="1571.7" x2="534.0" y2="2129.6" stroke="#7e2620" stroke-width="2.3" stroke-dasharray="12.9 13.7" stroke-dashoffset="6.1"/>
<line x1="664.8" y1="1571.7" x2="664.8" y2="2129.6" stroke="#7e2620" stroke-width="2.3" stroke-dasharray="12.9 13.7" stroke-dashoffset="6.1"/>
<line x1="756.0" y1="1571.7" x2="756.0" y2="2129.6" stroke="#7e2620" stroke-width="2.3" stroke-dasharray="12.9 13.7" stroke-dashoffset="6.1"/>
<rect x="101.6" y="1555.8" width="776.7" height="577.8" fill="none" stroke="#000" stroke-width="1.7"/>
<line x1="93.6" y1="1582.3" x2="101.6" y2="1582.3" stroke="#000" stroke-width="1.6"/>
<text x="86" y="1590.1" text-anchor="end" class="t" textLength="40" lengthAdjust="spacingAndGlyphs">105</text>
<line x1="93.6" y1="1703.4" x2="101.6" y2="1703.4" stroke="#000" stroke-width="1.6"/>
<text x="86" y="1711.2" text-anchor="end" class="t" textLength="40" lengthAdjust="spacingAndGlyphs">100</text>
<line x1="93.6" y1="1824.5" x2="101.6" y2="1824.5" stroke="#000" stroke-width="1.6"/>
<text x="86" y="1832.3" text-anchor="end" class="t" textLength="27" lengthAdjust="spacingAndGlyphs">95</text>
<line x1="93.6" y1="1945.6" x2="101.6" y2="1945.6" stroke="#000" stroke-width="1.6"/>
<text x="86" y="1953.4" text-anchor="end" class="t" textLength="27" lengthAdjust="spacingAndGlyphs">90</text>
<line x1="93.6" y1="2066.7" x2="101.6" y2="2066.7" stroke="#000" stroke-width="1.6"/>
<text x="86" y="2074.5" text-anchor="end" class="t" textLength="27" lengthAdjust="spacingAndGlyphs">85</text>
<text transform="translate(31.6,1841.8) rotate(-90)" x="0" y="0" text-anchor="middle" class="t" textLength="237" lengthAdjust="spacingAndGlyphs">Attitude angle (degree)</text>
</svg>
</body></html>
